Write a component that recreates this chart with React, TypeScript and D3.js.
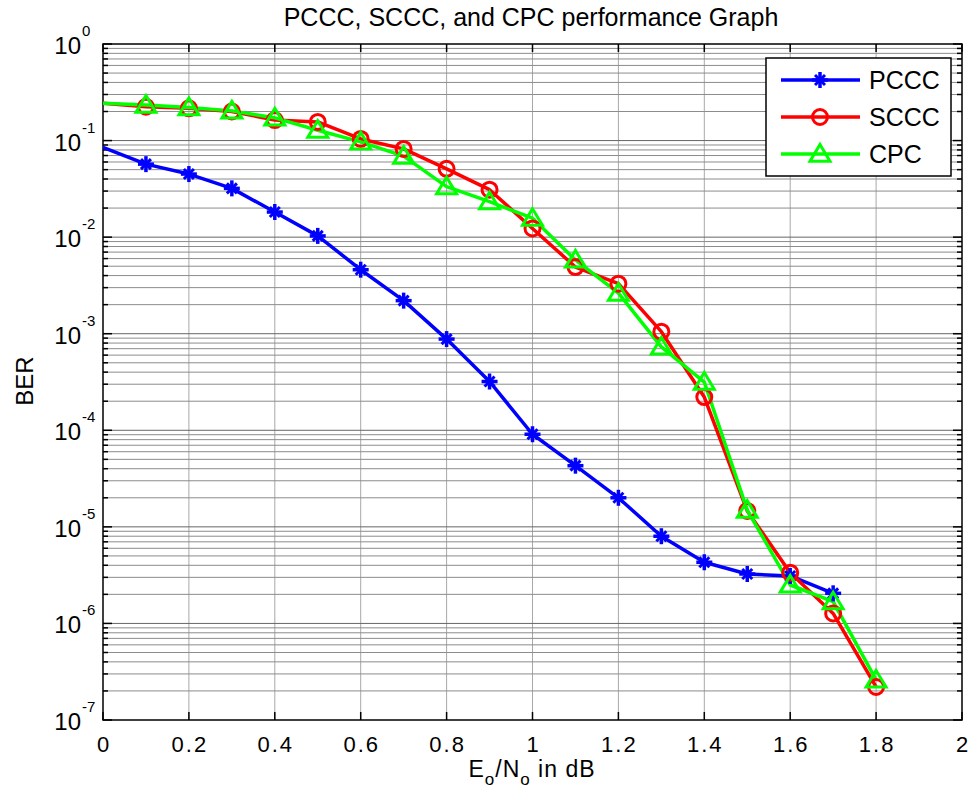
import React from "react";
import * as d3 from "d3";

const xs = [0, 0.1, 0.2, 0.3, 0.4, 0.5, 0.6, 0.7, 0.8, 0.9, 1.0, 1.1, 1.2, 1.3, 1.4, 1.5, 1.6, 1.7, 1.8];
const pccc = [0.085, 0.057, 0.045, 0.032, 0.0182, 0.0103, 0.0046, 0.0022, 0.00088, 0.00032, 9.1e-5, 4.3e-5, 2.0e-5, 8.0e-6, 4.3e-6, 3.25e-6, 3.1e-6, 2.05e-6];
const sccc = [0.243, 0.224, 0.216, 0.2, 0.163, 0.156, 0.104, 0.082, 0.051, 0.031, 0.0123, 0.0049, 0.0033, 0.00105, 0.000221, 1.46e-5, 3.35e-6, 1.27e-6, 2.2e-7];
const cpc = [0.243, 0.233, 0.22, 0.203, 0.172, 0.128, 0.097, 0.069, 0.0333, 0.0233, 0.0157, 0.0058, 0.00263, 0.00073, 0.000316, 1.49e-5, 2.5e-6, 1.68e-6, 2.6e-7];
const seriesNames = ["PCCC", "SCCC", "CPC"];
const seriesColors = ["#0000ff", "#ff0000", "#00ff00"];
const xTicks = [0, 0.2, 0.4, 0.6, 0.8, 1, 1.2, 1.4, 1.6, 1.8, 2];
const yExps = [0, -1, -2, -3, -4, -5, -6, -7];

const W = 975, H = 800;
const L = 103, R = 962, T = 44, B = 720;

function Marker({ kind, x, y, color }: { kind: number; x: number; y: number; color: string }) {
  if (kind === 0) {
    const s = 8;
    return (
      <g stroke={color}>
        <line x1={x - s} y1={y} x2={x + s} y2={y} strokeWidth={3.5} />
        <line x1={x} y1={y - s} x2={x} y2={y + s} strokeWidth={3.5} />
        <line x1={x - 5} y1={y - 5} x2={x + 5} y2={y + 5} strokeWidth={3} />
        <line x1={x - 5} y1={y + 5} x2={x + 5} y2={y - 5} strokeWidth={3} />
      </g>
    );
  }
  if (kind === 1) {
    return <circle cx={x} cy={y} r={7.5} fill="none" stroke={color} strokeWidth={3} />;
  }
  const h = 9.5;
  return (
    <path
      d={`M${x},${y - h} L${x + h * 1.05},${y + h * 0.75} L${x - h * 1.05},${y + h * 0.75} Z`}
      fill="none"
      stroke={color}
      strokeWidth={3}
    />
  );
}

export default function App() {
  const x = d3.scaleLinear().domain([0, 2]).range([L, R]);
  const y = d3.scaleLog().domain([1e-7, 1]).range([B, T]);
  const data = [pccc, sccc, cpc];
  const line = d3
    .line<[number, number]>()
    .x((d) => x(d[0]))
    .y((d) => y(d[1]));

  const minor: number[] = [];
  for (let e = -7; e < 0; e++) for (let m = 2; m <= 9; m++) minor.push(m * Math.pow(10, e));

  const font = "Liberation Sans, Arial, Helvetica, sans-serif";

  return (
    <svg width={W} height={H} style={{ position: "absolute", left: 0, top: 0 }} fontFamily={font}>
      <rect x={0} y={0} width={W} height={H} fill="#fff" />
      <defs>
        <clipPath id="plot">
          <rect x={L} y={T} width={R - L} height={B - T} />
        </clipPath>
      </defs>
      {/* grid */}
      <g stroke="#8c8c8c" strokeWidth={1}>
        {xTicks.slice(1, -1).map((t) => (
          <line key={"gx" + t} x1={x(t)} x2={x(t)} y1={T} y2={B} stroke="#a8a8a8" />
        ))}
        {yExps.slice(1, -1).map((e) => (
          <line key={"gy" + e} x1={L} x2={R} y1={y(Math.pow(10, e))} y2={y(Math.pow(10, e))} stroke="#666" />
        ))}
        {minor.map((v, i) => (
          <line key={"gm" + i} x1={L} x2={R} y1={y(v)} y2={y(v)} />
        ))}
      </g>
      {/* ticks */}
      <g stroke="#000" strokeWidth={1.5}>
        {xTicks.map((t) => (
          <g key={"tx" + t}>
            <line x1={x(t)} x2={x(t)} y1={B} y2={B - 8} />
            <line x1={x(t)} x2={x(t)} y1={T} y2={T + 8} />
          </g>
        ))}
        {yExps.map((e) => (
          <g key={"ty" + e}>
            <line x1={L} x2={L + 9} y1={y(Math.pow(10, e))} y2={y(Math.pow(10, e))} />
            <line x1={R} x2={R - 9} y1={y(Math.pow(10, e))} y2={y(Math.pow(10, e))} />
          </g>
        ))}
        {minor.map((v, i) => (
          <g key={"tm" + i}>
            <line x1={L} x2={L + 5} y1={y(v)} y2={y(v)} />
            <line x1={R} x2={R - 5} y1={y(v)} y2={y(v)} />
          </g>
        ))}
      </g>
      <rect x={L} y={T} width={R - L} height={B - T} fill="none" stroke="#000" strokeWidth={1.5} />
      {/* tick labels */}
      <g fill="#000">
        {xTicks.map((t) => (
          <text key={"lx" + t} x={x(t) + 1} y={752} textAnchor="middle" fontSize={22} letterSpacing={2}>
            {d3.format("~g")(t)}
          </text>
        ))}
        {yExps.map((e) => (
          <text key={"ly" + e} x={81} y={y(Math.pow(10, e)) + 10} textAnchor="end" fontSize={24}>
            10
          </text>
        ))}
        {yExps.map((e) => (
          <text key={"le" + e} x={82} y={y(Math.pow(10, e)) - 8} textAnchor="start" fontSize={15}>
            {e === 0 ? "0" : String(e)}
          </text>
        ))}
      </g>
      {/* data */}
      <g clipPath="url(#plot)">
        {data.map((s, si) => (
          <path
            key={"p" + si}
            d={line(s.map((v, i) => [xs[i], v] as [number, number])) || ""}
            fill="none"
            stroke={seriesColors[si]}
            strokeWidth={3.5}
            strokeLinejoin="round"
          />
        ))}
        {data.map((s, si) =>
          s.map((v, i) =>
            i === 0 ? null : <Marker key={"m" + si + "-" + i} kind={si} x={x(xs[i])} y={y(v)} color={seriesColors[si]} />
          )
        )}
      </g>
      {/* legend */}
      <g>
        <rect x={766} y={58} width={185} height={118} fill="#fff" stroke="#000" strokeWidth={1.5} />
        {seriesNames.map((n, i) => {
          const ly = 80 + i * 37;
          return (
            <g key={"lg" + n}>
              <line x1={781} x2={860} y1={ly} y2={ly} stroke={seriesColors[i]} strokeWidth={3.5} />
              <Marker kind={i} x={820} y={ly} color={seriesColors[i]} />
              <text x={869} y={ly + 9} fontSize={25} fill="#000">
                {n}
              </text>
            </g>
          );
        })}
      </g>
      {/* titles */}
      <text x={531} y={26} textAnchor="middle" fontSize={25} fill="#000">
        PCCC, SCCC, and CPC performance Graph
      </text>
      <text x={532} y={777} textAnchor="middle" fontSize={23} letterSpacing={1} fill="#000">
        E<tspan fontSize={17} dy={8}>o</tspan>
        <tspan dy={-8}>/N</tspan>
        <tspan fontSize={17} dy={8}>o</tspan>
        <tspan dy={-8}> in dB</tspan>
      </text>
      <text transform={`translate(33,${381}) rotate(-90)`} textAnchor="middle" fontSize={24} fill="#000">
        BER
      </text>
    </svg>
  );
}
